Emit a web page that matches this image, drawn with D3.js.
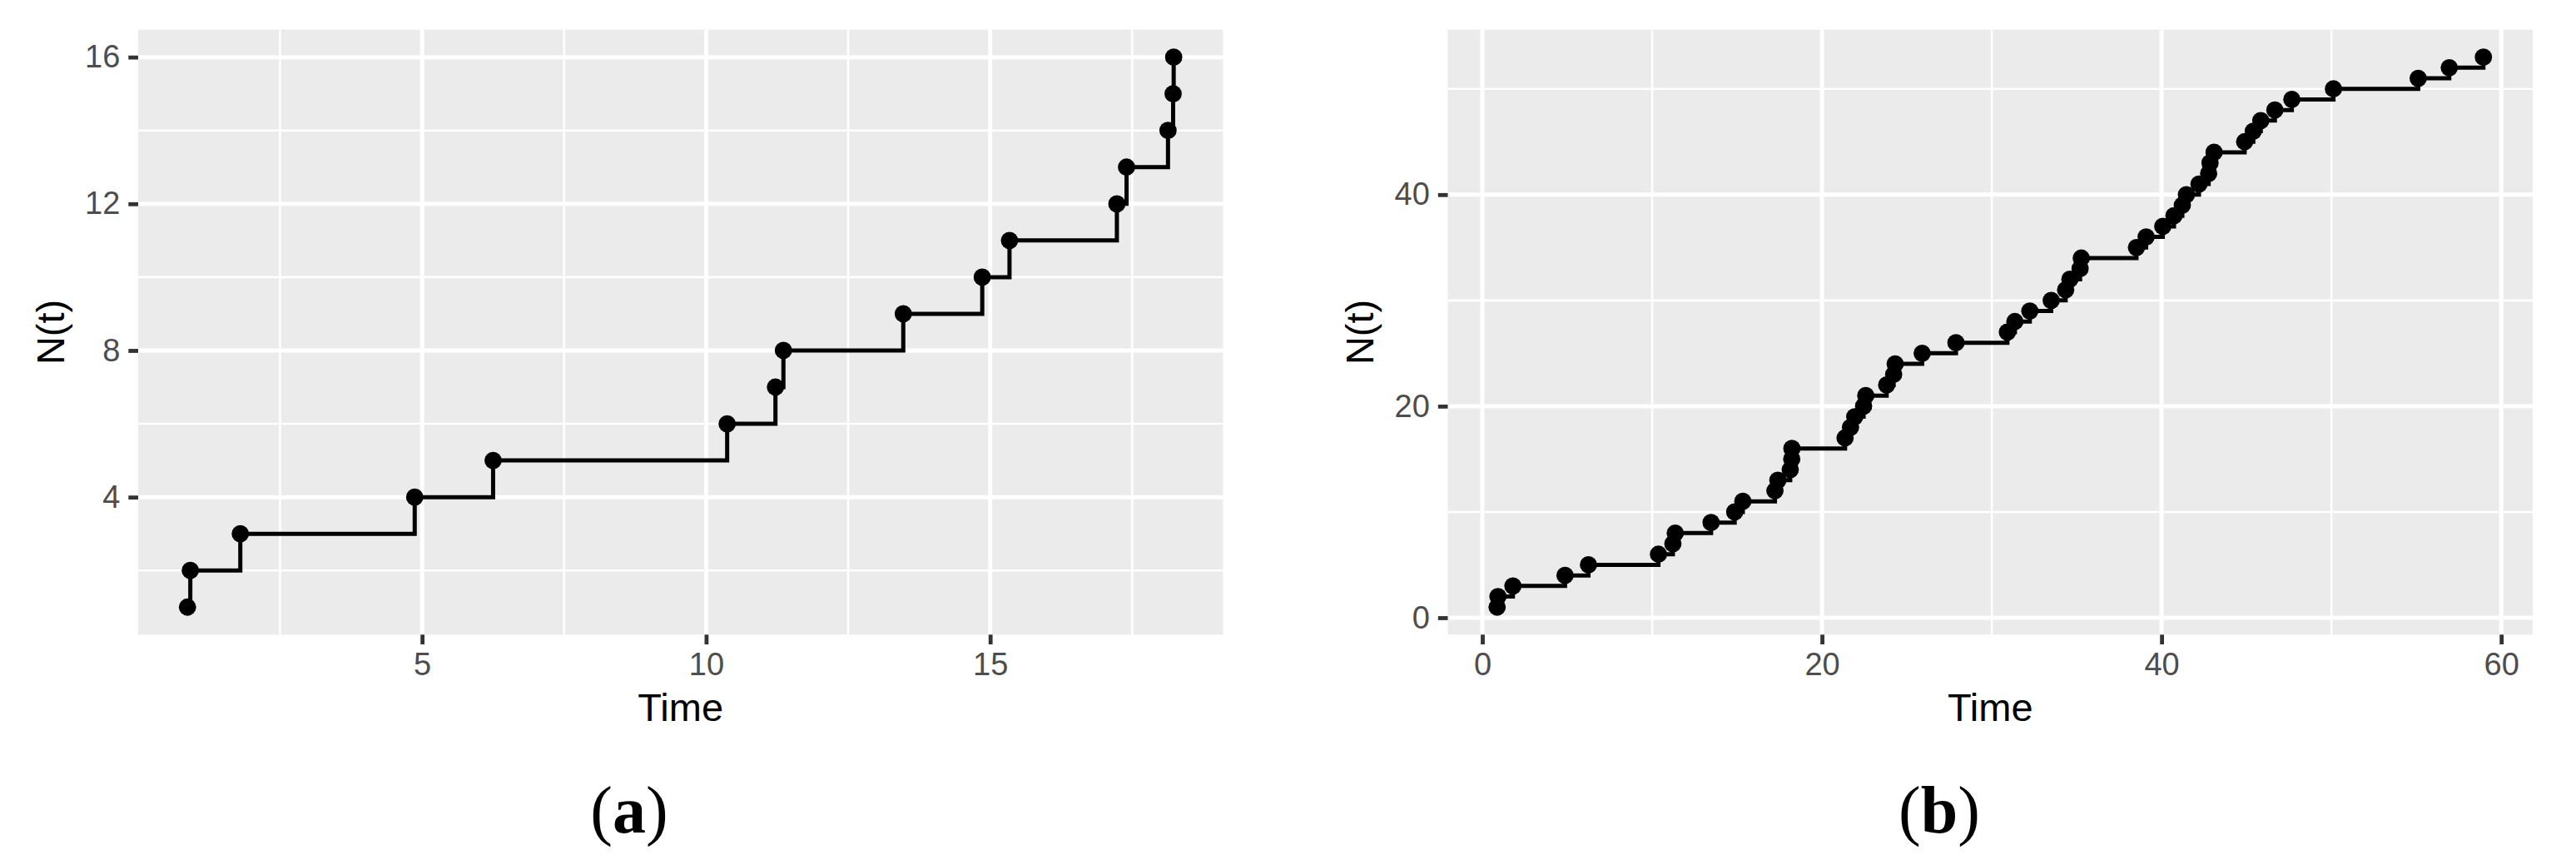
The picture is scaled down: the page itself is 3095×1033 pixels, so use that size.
<!DOCTYPE html>
<html>
<head>
<meta charset="utf-8">
<script src="https://cdn.jsdelivr.net/npm/d3@7"></script>
<style>
  html, body { margin: 0; padding: 0; background: #ffffff; }
  svg { display: block; }
</style>
</head>
<body>
<svg id="chart" width="3095" height="1033"></svg>
<script>
// ---- Data ----
// Panel (a): event times and cumulative counts N(t)
const timesA  = [0.87, 0.92, 1.80, 4.87, 6.25, 10.37, 11.22, 11.36, 13.47, 14.86,
                 15.34, 17.23, 17.40, 18.13, 18.22, 18.23];
const countsA = [1, 2, 3, 4, 5, 6, 7, 8, 9, 10, 11, 12, 13, 14, 15, 16];

// Panel (b): event times and cumulative counts N(t)
const timesB  = [0.87, 0.92, 1.80, 4.87, 6.25, 10.37, 11.22, 11.36, 13.47, 14.86,
                 15.34, 17.23, 17.40, 18.13, 18.22, 18.23, 21.36, 21.68, 21.93, 22.45,
                 22.58, 23.81, 24.22, 24.31, 25.90, 27.89, 30.92, 31.36, 32.24, 33.50,
                 34.35, 34.60, 35.20, 35.27, 38.52, 39.09, 40.07, 40.73, 41.22, 41.46,
                 42.20, 42.77, 42.85, 43.09, 44.89, 45.40, 45.84, 46.67, 47.67, 50.12,
                 55.11, 56.94, 58.95];
const countsB = [1, 2, 3, 4, 5, 6, 7, 8, 9, 10, 11, 12, 13, 14, 15, 16, 17, 18, 19, 20,
                 21, 22, 23, 24, 25, 26, 27, 28, 29, 30, 31, 32, 33, 34, 35, 36, 37, 38, 39, 40,
                 41, 42, 43, 44, 45, 46, 47, 48, 49, 50, 51, 52, 53];

// Tick values
const xMajorA = [5, 10, 15];
const xMinorA = [2.5, 7.5, 12.5, 17.5];
const yMajorA = [4, 8, 12, 16];
const yMinorA = [2, 6, 10, 14];

const xMajorB = [0, 20, 40, 60];
const xMinorB = [10, 30, 50];
const yMajorB = [0, 20, 40];
const yMinorB = [10, 30, 50];

// Labels
const xTitle = "Time";
const yTitle = "N(t)";
const panelLetters = ["a", "b"];

// ---- Drawing ----
const svg = d3.select("#chart");
const SANS = "'Liberation Sans', Arial, Helvetica, sans-serif";
const SERIF = "'Liberation Serif', 'Times New Roman', serif";

function drawPanel(cfg) {
  const g = svg.append("g");
  const xe = d3.extent(cfg.times), xp = (xe[1] - xe[0]) * 0.05;
  const ye = d3.extent(cfg.counts), yp = (ye[1] - ye[0]) * 0.05;
  const x = d3.scaleLinear().domain([xe[0] - xp, xe[1] + xp]).range([cfg.left, cfg.right]);
  const y = d3.scaleLinear().domain([ye[0] - yp, ye[1] + yp]).range([cfg.bottom, cfg.top]);

  // panel background
  g.append("rect")
    .attr("x", cfg.left).attr("y", cfg.top)
    .attr("width", cfg.right - cfg.left).attr("height", cfg.bottom - cfg.top)
    .attr("fill", "#EBEBEB");

  const grid = g.append("g").attr("stroke", "#ffffff");
  // minor grid
  grid.selectAll("line.xmin").data(cfg.xMinor).join("line")
    .attr("x1", d => x(d)).attr("x2", d => x(d))
    .attr("y1", cfg.top).attr("y2", cfg.bottom).attr("stroke-width", 2.6);
  grid.selectAll("line.ymin").data(cfg.yMinor).join("line")
    .attr("y1", d => y(d)).attr("y2", d => y(d))
    .attr("x1", cfg.left).attr("x2", cfg.right).attr("stroke-width", 2.6);
  // major grid
  grid.selectAll("line.xmaj").data(cfg.xMajor).join("line")
    .attr("x1", d => x(d)).attr("x2", d => x(d))
    .attr("y1", cfg.top).attr("y2", cfg.bottom).attr("stroke-width", 5);
  grid.selectAll("line.ymaj").data(cfg.yMajor).join("line")
    .attr("y1", d => y(d)).attr("y2", d => y(d))
    .attr("x1", cfg.left).attr("x2", cfg.right).attr("stroke-width", 5);

  // step line
  const pts = cfg.times.map((t, i) => [t, cfg.counts[i]]);
  g.append("path")
    .datum(pts)
    .attr("fill", "none")
    .attr("stroke", "#000")
    .attr("stroke-width", 5)
    .attr("d", d3.line().x(d => x(d[0])).y(d => y(d[1])).curve(d3.curveStepAfter));

  // points
  g.append("g").selectAll("circle").data(pts).join("circle")
    .attr("cx", d => x(d[0])).attr("cy", d => y(d[1]))
    .attr("r", 10.4).attr("fill", "#000");

  // axes
  const xAxis = g.append("g")
    .attr("transform", `translate(0,${cfg.bottom})`)
    .call(d3.axisBottom(x).tickValues(cfg.xMajor).tickFormat(d3.format("d")).tickSize(11.7).tickPadding(10));
  const yAxis = g.append("g")
    .attr("transform", `translate(${cfg.left},0)`)
    .call(d3.axisLeft(y).tickValues(cfg.yMajor).tickFormat(d3.format("d")).tickSize(11.7).tickPadding(10));
  [xAxis, yAxis].forEach(a => {
    a.select(".domain").remove();
    a.selectAll(".tick line").attr("stroke", "#333333").attr("stroke-width", 4.8);
    a.selectAll(".tick text").attr("fill", "#4D4D4D")
      .style("font-family", SANS).style("font-size", "38px");
  });

  // axis titles
  g.append("text")
    .attr("x", (cfg.left + cfg.right) / 2).attr("y", 866)
    .attr("text-anchor", "middle")
    .style("font-family", SANS).style("font-size", "47px").attr("fill", "#000")
    .text(xTitle);
  const cy = (cfg.top + cfg.bottom) / 2;
  g.append("text")
    .attr("transform", `translate(${cfg.yTitleX},${cy}) rotate(-90)`)
    .attr("text-anchor", "middle")
    .style("font-family", SANS).style("font-size", "47px").attr("fill", "#000")
    .text(yTitle);

  // caption (a)/(b)
  const cap = g.append("text")
    .attr("x", cfg.captionX).attr("y", 1000)
    .attr("text-anchor", "middle")
    .style("font-family", SERIF).style("font-size", "80px").attr("fill", "#000");
  cap.append("tspan").text("(");
  cap.append("tspan").style("font-weight", "bold").text(cfg.letter);
  cap.append("tspan").text(")");
}

drawPanel({
  times: timesA, counts: countsA,
  left: 166, right: 1469.4, top: 35.6, bottom: 762.3,
  xMajor: xMajorA, xMinor: xMinorA, yMajor: yMajorA, yMinor: yMinorA,
  yTitleX: 77, captionX: 756, letter: panelLetters[0]
});

drawPanel({
  times: timesB, counts: countsB,
  left: 1739.5, right: 3043, top: 35.6, bottom: 762.3,
  xMajor: xMajorB, xMinor: xMinorB, yMajor: yMajorB, yMinor: yMinorB,
  yTitleX: 1650, captionX: 2330, letter: panelLetters[1]
});
</script>
</body>
</html>
